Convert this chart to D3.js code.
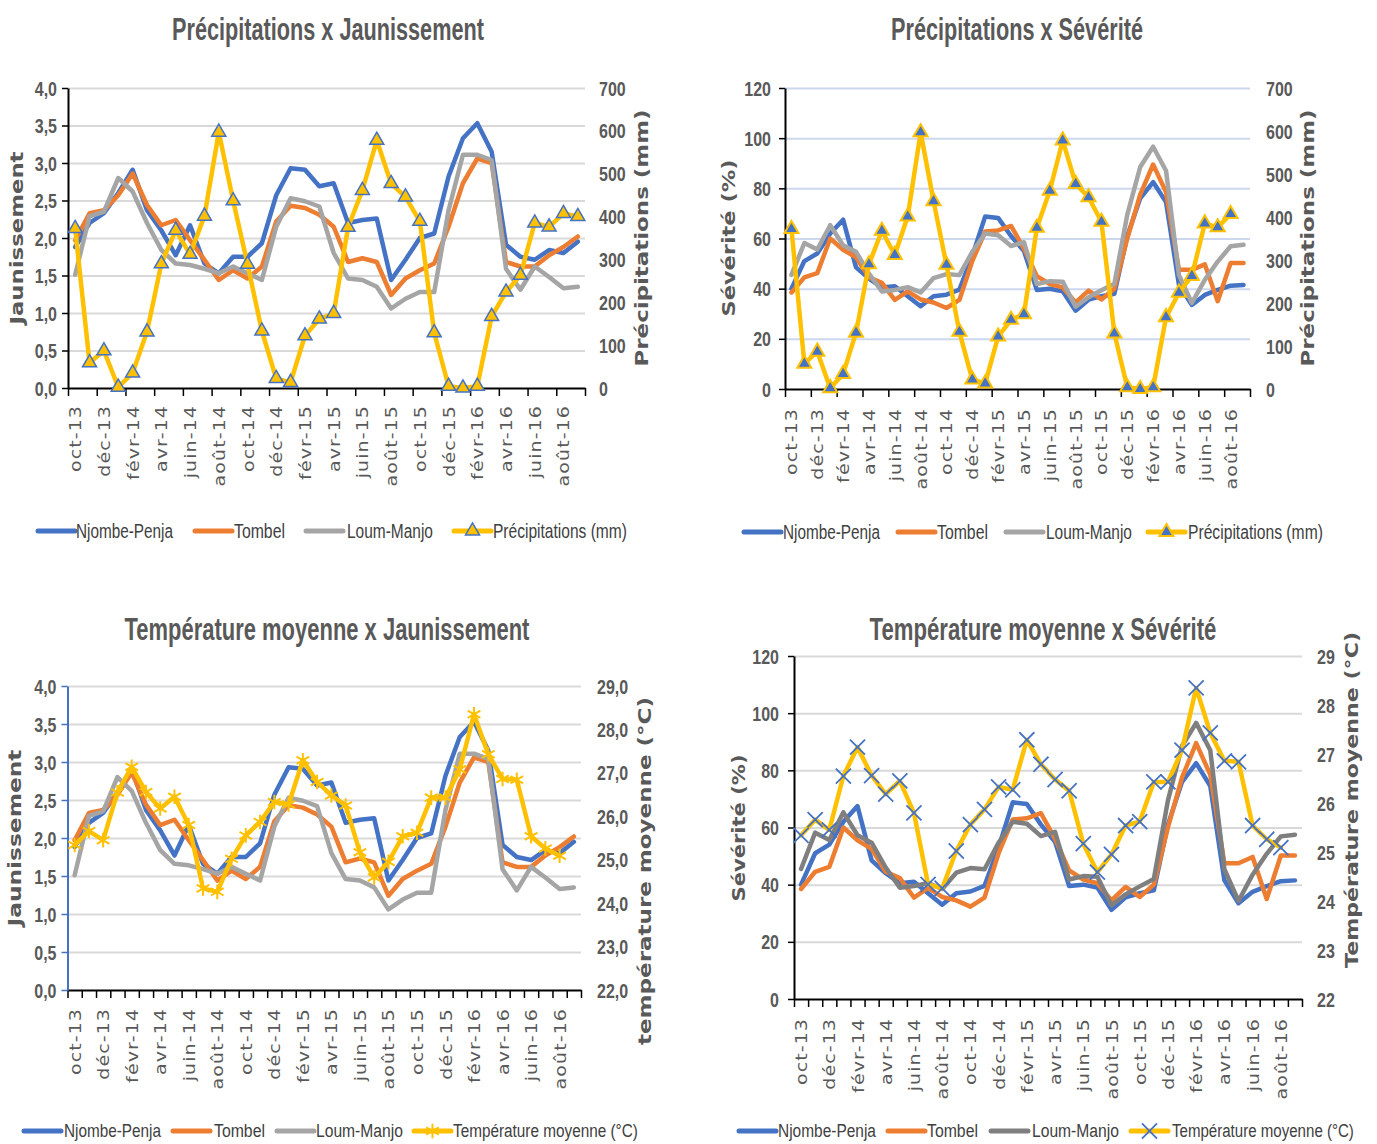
<!DOCTYPE html>
<html><head><meta charset="utf-8">
<script src="https://cdn.jsdelivr.net/npm/d3@7"></script>
<style>body{margin:0;background:#fff}svg{display:block}</style>
</head><body>
<svg id="c" width="1377" height="1144"></svg>
<script>
// ---------- DATA ----------
const mois = ["oct-13","nov-13","déc-13","janv-14","févr-14","mars-14","avr-14","mai-14","juin-14","juil-14","août-14","sept-14",
  "oct-14","nov-14","déc-14","janv-15","févr-15","mars-15","avr-15","mai-15","juin-15","juil-15","août-15","sept-15",
  "oct-15","nov-15","déc-15","janv-16","févr-16","mars-16","avr-16","mai-16","juin-16","juil-16","août-16","sept-16"];

const jaunNjombe = [1.88,2.2,2.33,2.6,2.91,2.37,2.1,1.77,2.17,1.66,1.53,1.75,1.75,1.93,2.57,2.93,2.91,2.69,2.73,2.2,2.24,2.26,1.44,1.71,2.0,2.06,2.82,3.33,3.53,3.15,1.91,1.75,1.71,1.84,1.8,1.95];
const jaunTombel = [1.97,2.33,2.37,2.57,2.86,2.44,2.17,2.24,1.97,1.71,1.44,1.57,1.46,1.62,2.22,2.43,2.4,2.31,2.15,1.68,1.73,1.68,1.24,1.46,1.57,1.66,2.15,2.73,3.06,3.0,1.68,1.62,1.62,1.77,1.88,2.02];
const jaunLoum   = [1.51,2.29,2.35,2.8,2.62,2.2,1.84,1.66,1.64,1.59,1.53,1.62,1.53,1.44,2.15,2.53,2.49,2.42,1.8,1.46,1.44,1.35,1.06,1.19,1.28,1.28,2.37,3.11,3.11,3.04,1.59,1.31,1.62,1.48,1.33,1.35];

const sevNjombe = [40,51,54,62,67.5,48.5,44,40.5,41,37,33,37,37.6,39.6,53,68.8,68.2,61,55,39.5,40,39,31.2,35.6,37,38,61,76,82.5,74.5,41.5,33.5,37.5,39.5,41.2,41.5];
const sevTombel = [38.5,44.5,46.2,60,55.5,52.5,44.5,42.3,35.5,38.9,35.7,34.5,32.3,35.5,51,62.8,63.2,65,56,45,41.8,40.5,34.5,39.2,35.7,40,60,77.5,89.5,78.5,47.5,47.5,49.7,35,50.2,50.2];
const sevLoum   = [45.5,58.2,55.6,65.3,57.3,54.7,46,38.9,39.5,40.6,38.5,44.2,45.8,45.4,54.7,62,61.3,57,58.5,41.8,43,42.8,32.8,36.6,39.4,42,69.5,88.5,96.6,87,45.4,34.3,43.5,50.8,56.9,57.5];

const precipitations = [372,59,87,2,35,131,290,368,312,401,597,437,289,133,22,13,122,161,174,375,461,578,477,446,389,129,4,0,4,167,224,263,385,376,407,400];
const precipSeverite = [372,59,87,2,35,131,290,368,312,401,597,437,289,133,22,13,122,161,174,375,461,578,477,446,389,129,4,0,4,167,224,263,385,376,407];
const temperature = [25.34,25.66,25.45,26.55,27.14,26.56,26.18,26.45,25.8,24.34,24.26,25.02,25.56,25.87,26.33,26.27,27.29,26.79,26.48,26.25,25.17,24.59,24.95,25.54,25.62,26.43,26.43,27.08,28.35,27.43,26.86,26.84,25.54,25.26,25.09];

const ticksJaun = [0,0.5,1,1.5,2,2.5,3,3.5,4];
const ticksPrecip = [0,100,200,300,400,500,600,700];
const ticksSev = [0,20,40,60,80,100,120];
const ticksTemp = [22,23,24,25,26,27,28,29];

// ---------- STYLE ----------
const bleu = "#4472C4", orange = "#ED7D31", gris = "#A5A5A5", grisFonce = "#7F7F7F", jaune = "#FFC000";
const texte = "#595959";
const fr = d3.formatLocale({decimal:",", thousands:"\u00a0", grouping:[3], currency:["","€"]});
const f1 = fr.format(".1f"), f0 = fr.format("d");

const svg = d3.select("#c");

function marker(sel, m) {
  sel.attr("d", d3.symbol(m.type, m.size)())
     .attr("fill", m.fill || "none")
     .attr("stroke", m.stroke)
     .attr("stroke-width", m.sw || 1.5);
}

// text squeezed horizontally to a target width (via transform, measured)
function squeezed(parent, str, x, y, w, anchor, styles) {
  const t = parent.append("text").attr("x", 0).attr("y", 0).attr("text-anchor", anchor);
  Object.entries(styles).forEach(([k, v]) => t.style(k, v));
  t.text(str);
  const len = t.node().getComputedTextLength();
  t.attr("transform", `translate(${x},${y}) scale(${w / len},1)`);
  return t;
}

function panel(p) {
  const g = svg.append("g");
  const x = d3.scaleBand().domain(mois).range([p.L, p.R]);
  const xb = d3.scaleLinear().domain([0, mois.length]).range([p.L, p.R]);
  const yL = d3.scaleLinear().domain(p.domL).range([p.B, p.T]);
  const yR = d3.scaleLinear().domain(p.domR).range([p.B, p.T]);
  const px = m => x(m) + x.bandwidth() / 2;

  // grid
  const grid = g.append("g").attr("transform", `translate(${p.L},0)`)
    .call(d3.axisLeft(yL).tickValues(p.ticksL.slice(1)).tickSize(-(p.R - p.L)).tickFormat(""));
  grid.select(".domain").remove();
  grid.selectAll("line").attr("stroke", p.grid).attr("stroke-width", 2);

  // bottom axis line + tick marks
  const bx = g.append("g").attr("transform", `translate(0,${p.B})`)
    .call(d3.axisBottom(xb).tickValues(d3.range(0, mois.length + 1, p.pas)).tickSize(8).tickSizeOuter(0).tickFormat(""));
  bx.select(".domain").attr("stroke", "#000").attr("stroke-width", 2);
  bx.selectAll(".tick line").attr("stroke", "#000").attr("stroke-width", 1.5);

  // x labels
  const xl = g.append("g").attr("transform", `translate(0,${p.B})`)
    .call(d3.axisBottom(x).tickValues(mois.filter((m, i) => i % 2 === 0)).tickSize(0));
  xl.select(".domain").remove();
  xl.selectAll("text").attr("x", 0).attr("y", 0).attr("dy", "0.36em")
    .attr("transform", `translate(0,${p.offX}) scale(0.88,1) rotate(-90)`)
    .attr("text-anchor", "end").attr("fill", texte)
    .style("font-family", "'DejaVu Sans'").style("font-size", "19px").style("letter-spacing", "1.1px");

  // left axis
  const la = g.append("g").attr("transform", `translate(${p.L},0)`)
    .call(d3.axisLeft(yL).tickValues(p.ticksL).tickSize(6).tickSizeOuter(0).tickFormat(p.fmtL));
  la.select(".domain").attr("stroke", p.axeG).attr("stroke-width", 2);
  la.selectAll(".tick line").attr("stroke", p.axeG).attr("stroke-width", 1.5);
  la.selectAll("text").attr("x", 0).attr("dy", "0.35em")
    .attr("transform", `translate(${-p.gapL},0) scale(0.8,1)`)
    .attr("text-anchor", "end").attr("fill", texte)
    .style("font-family", "'Liberation Sans',Arial").style("font-size", "20px").style("font-weight", "bold");

  // right labels
  const ra = g.append("g").attr("transform", `translate(${p.R},0)`)
    .call(d3.axisRight(yR).tickValues(p.ticksR).tickSize(0).tickFormat(p.fmtR));
  ra.select(".domain").remove();
  ra.selectAll("text").attr("x", 0).attr("dy", "0.35em")
    .attr("transform", `translate(${p.gapR},0) scale(0.8,1)`)
    .attr("text-anchor", "start").attr("fill", texte)
    .style("font-family", "'Liberation Sans',Arial").style("font-size", "20px").style("font-weight", "bold");

  // series
  p.series.forEach(s => {
    const ys = s.axe === "R" ? yR : yL;
    const ln = d3.line().defined(d => d != null).x((d, i) => px(mois[i])).y(d => ys(d));
    g.append("path").datum(s.values).attr("d", ln).attr("fill", "none")
      .attr("stroke", s.color).attr("stroke-width", 4.5)
      .attr("stroke-linejoin", "round").attr("stroke-linecap", "round");
    if (s.marker) {
      g.append("g").selectAll("path").data(s.values).join("path")
        .attr("transform", (d, i) => `translate(${px(mois[i])},${ys(d)})`)
        .call(marker, s.marker);
    }
  });

  // title
  squeezed(svg, p.titre.t, p.titre.x, p.titre.y, p.titre.w, "middle",
    {"font-family": "'Liberation Sans',Arial", "font-weight": "bold", "font-size": "31px", "fill": texte});

  // axis titles
  [p.titreG, p.titreD].forEach(a => {
    svg.append("text").attr("transform", `translate(${a.x},${a.y}) scale(0.85,1) rotate(-90)`)
      .attr("text-anchor", "middle").attr("dy", "0.35em")
      .attr("textLength", a.w).attr("lengthAdjust", "spacingAndGlyphs")
      .attr("fill", texte).style("font-family", "'DejaVu Sans'").style("font-weight", "bold").style("font-size", "21px")
      .text(a.t);
  });

  // legend
  p.series.forEach((s, k) => {
    const it = p.legende[k];
    const lg = svg.append("g");
    lg.append("line").attr("x1", it.sx).attr("x2", it.sx + 37).attr("y1", p.legY).attr("y2", p.legY)
      .attr("stroke", s.color).attr("stroke-width", 5).attr("stroke-linecap", "round");
    if (s.marker) {
      lg.append("path").attr("transform", `translate(${it.sx + 18.5},${p.legY})`).call(marker, s.marker);
    }
    squeezed(lg, s.name, it.tx, p.legY + 0.33 * p.legF, it.w, "start",
      {"font-family": "'Liberation Sans',Arial", "font-size": p.legF + "px", "fill": "#404040"});
  });
}

const triJaune = {type: d3.symbolTriangle, size: 85, fill: jaune, stroke: bleu, sw: 1.5};
const triBleu = {type: d3.symbolTriangle, size: 85, fill: bleu, stroke: jaune, sw: 2};
const etoile = {type: d3.symbolAsterisk, size: 150, stroke: jaune, sw: 2};
const croix = {type: d3.symbolTimes, size: 150, stroke: bleu, sw: 1.8};

// Top-left
panel({
  L: 68, R: 585, T: 88, B: 388, domL: [0, 4], domR: [0, 700],
  ticksL: ticksJaun, ticksR: ticksPrecip, fmtL: f1, fmtR: f0,
  grid: "#D9D9D9", axeG: "#000", pas: 2, gapL: 11, gapR: 14, offX: 17,
  titre: {t: "Précipitations x Jaunissement", x: 328, y: 40, w: 312},
  titreG: {t: "Jaunissement", x: 17, y: 238, w: 173},
  titreD: {t: "Précipitations (mm)", x: 642, y: 238, w: 257},
  legY: 531, legF: 21,
  legende: [{sx: 38, tx: 76, w: 97}, {sx: 195, tx: 234, w: 51}, {sx: 306, tx: 347, w: 86}, {sx: 454, tx: 493, w: 134}],
  series: [
    {name: "Njombe-Penja", values: jaunNjombe, color: bleu},
    {name: "Tombel", values: jaunTombel, color: orange},
    {name: "Loum-Manjo", values: jaunLoum, color: gris},
    {name: "Précipitations (mm)", values: precipitations, color: jaune, axe: "R", marker: triJaune}
  ]
});

// Top-right
panel({
  L: 785, R: 1250, T: 88, B: 389, domL: [0, 120], domR: [0, 700],
  ticksL: ticksSev, ticksR: ticksPrecip, fmtL: f0, fmtR: f0,
  grid: "#CCD7EE", axeG: "#000", pas: 2, gapL: 14, gapR: 16, offX: 19,
  titre: {t: "Précipitations x Sévérité", x: 1017, y: 40, w: 252},
  titreG: {t: "Sévérité (%)", x: 729, y: 238, w: 157},
  titreD: {t: "Précipitations (mm)", x: 1308, y: 238, w: 257},
  legY: 532, legF: 21,
  legende: [{sx: 744, tx: 783, w: 97}, {sx: 898, tx: 937, w: 51}, {sx: 1006, tx: 1046, w: 86}, {sx: 1148, tx: 1188, w: 135}],
  series: [
    {name: "Njombe-Penja", values: sevNjombe, color: bleu},
    {name: "Tombel", values: sevTombel, color: orange},
    {name: "Loum-Manjo", values: sevLoum, color: gris},
    {name: "Précipitations (mm)", values: precipSeverite, color: jaune, axe: "R", marker: triBleu}
  ]
});

// Bottom-left
panel({
  L: 67.5, R: 581, T: 686, B: 990, domL: [0, 4], domR: [22, 29],
  ticksL: ticksJaun, ticksR: ticksTemp, fmtL: f1, fmtR: f1,
  grid: "#D9D9D9", axeG: bleu, pas: 1, gapL: 11, gapR: 16, offX: 18,
  titre: {t: "Température moyenne x Jaunissement", x: 327, y: 640, w: 405},
  titreG: {t: "Jaunissement", x: 15, y: 838, w: 177},
  titreD: {t: "température moyenne (°C)", x: 645, y: 871, w: 348},
  legY: 1131, legF: 19,
  legende: [{sx: 24, tx: 64, w: 97}, {sx: 173, tx: 214, w: 51}, {sx: 277, tx: 316, w: 87}, {sx: 414, tx: 453, w: 185}],
  series: [
    {name: "Njombe-Penja", values: jaunNjombe, color: bleu},
    {name: "Tombel", values: jaunTombel, color: orange},
    {name: "Loum-Manjo", values: jaunLoum, color: gris},
    {name: "Température moyenne (°C)", values: temperature, color: jaune, axe: "R", marker: etoile}
  ]
});

// Bottom-right
panel({
  L: 794, R: 1302, T: 656, B: 999, domL: [0, 120], domR: [22, 29],
  ticksL: ticksSev, ticksR: ticksTemp, fmtL: f0, fmtR: f0,
  grid: "#D9D9D9", axeG: "#000", pas: 1, gapL: 15, gapR: 15, offX: 19,
  titre: {t: "Température moyenne x Sévérité", x: 1043, y: 640, w: 347},
  titreG: {t: "Sévérité (%)", x: 739, y: 828, w: 147},
  titreD: {t: "Température moyenne (°C)", x: 1352, y: 800, w: 336},
  legY: 1131, legF: 19,
  legende: [{sx: 739, tx: 778, w: 98}, {sx: 888, tx: 927, w: 51}, {sx: 991, tx: 1032, w: 87}, {sx: 1131, tx: 1172, w: 182}],
  series: [
    {name: "Njombe-Penja", values: sevNjombe, color: bleu},
    {name: "Tombel", values: sevTombel, color: orange},
    {name: "Loum-Manjo", values: sevLoum, color: grisFonce},
    {name: "Température moyenne (°C)", values: temperature, color: jaune, axe: "R", marker: croix}
  ]
});
</script>
</body></html>
